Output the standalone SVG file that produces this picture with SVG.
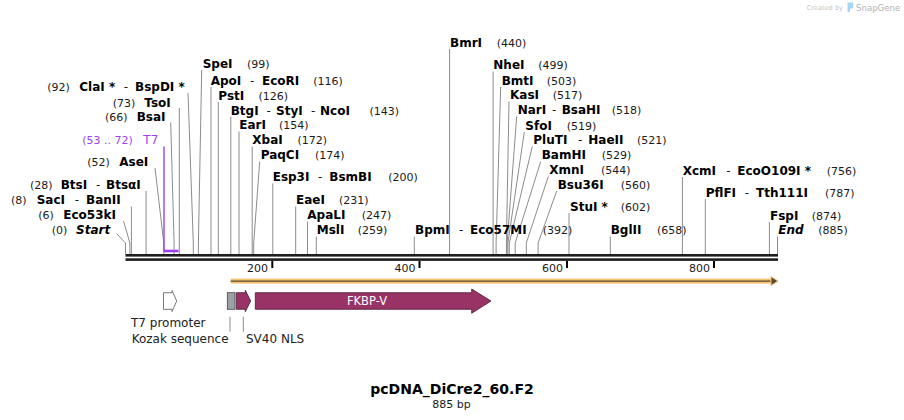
<svg xmlns="http://www.w3.org/2000/svg" width="904" height="420" viewBox="0 0 904 420">
<style>
.n{font-family:"DejaVu Sans",Verdana,sans-serif;font-size:12px;font-weight:bold;fill:#000}
.i{font-style:italic}
.p{font-family:"DejaVu Sans",Verdana,sans-serif;font-size:11px;fill:#1a1a1a}
.d{font-family:"DejaVu Sans",Verdana,sans-serif;font-size:12px;fill:#1a1a1a}
.t7{fill:#a03ff0}
.c{fill:none;stroke:#8c8c8c;stroke-width:1}
.fl{font-family:"DejaVu Sans",Verdana,sans-serif;font-size:12px;fill:#222}
.tk{stroke:#000;stroke-width:2}
</style>
<rect width="904" height="420" fill="#fff"/>

<g id="logo">
<text x="806.7" y="10" style="font-family:'DejaVu Sans',sans-serif;font-size:6.6px;fill:#c4c4c4">Created by</text>
<path d="M847.5,2.5 h4.5 a1.2,1.2 0 0 1 1.2,1.2 v3.6 a1.2,1.2 0 0 1 -1.2,1.2 h-2 v3.5 h-2.5 z" fill="#a6d6f5"/>
<text x="856" y="10.6" style="font-family:'DejaVu Sans',sans-serif;font-size:8.6px;fill:#b3b3b3">SnapGene</text>
</g>

<g id="connectors">
<polyline class="c" points="188,93 193.3,243 193.3,254"/>
<polyline class="c" points="179.3,108 179.3,254"/>
<polyline class="c" points="170.7,122.5 174.1,243 174.1,254"/>
<polyline class="c" points="155,168 163.8,243 163.8,254"/>
<polyline class="c" points="146.1,191 146.1,254"/>
<polyline class="c" points="131.4,206.5 131.4,254"/>
<polyline class="c" points="123.5,221 129.9,243 129.9,254"/>
<polyline class="c" points="116.5,233.5 125.5,243 125.5,254"/>
<polyline class="c" points="201.7,70 198.4,243 198.4,254"/>
<polyline class="c" points="211,87 211,254"/>
<polyline class="c" points="218.3,102 218.3,254"/>
<polyline class="c" points="230.8,116.5 230.8,254"/>
<polyline class="c" points="239,131.5 239,254"/>
<polyline class="c" points="252.2,146.5 252.2,254"/>
<polyline class="c" points="259.7,161.5 253.7,243 253.7,254"/>
<polyline class="c" points="272.8,183.5 272.8,254"/>
<polyline class="c" points="295.7,206.5 295.7,254"/>
<polyline class="c" points="307.5,221.5 307.5,254"/>
<polyline class="c" points="316.3,236.5 316.3,254"/>
<polyline class="c" points="414.3,236.5 414.3,254"/>
<polyline class="c" points="449.6,49 449.6,254"/>
<polyline class="c" points="493.1,71.5 493.1,254"/>
<polyline class="c" points="500.7,87 496.1,243 496.1,254"/>
<polyline class="c" points="509,101.5 506.4,243 506.4,254"/>
<polyline class="c" points="516.7,116.5 507.1,243 507.1,254"/>
<polyline class="c" points="524.3,132 507.9,243 507.9,254"/>
<polyline class="c" points="532.3,146.5 509.3,243 509.3,254"/>
<polyline class="c" points="540.7,161.5 515.2,243 515.2,254"/>
<polyline class="c" points="548.3,176.5 526.3,243 526.3,254"/>
<polyline class="c" points="556.7,191 538.1,243 538.1,254"/>
<polyline class="c" points="569,213 569,254"/>
<polyline class="c" points="610.3,236.5 610.3,254"/>
<polyline class="c" points="682.4,177 682.4,254"/>
<polyline class="c" points="705.3,199 705.3,254"/>
<polyline class="c" points="769.4,222 769.4,254"/>
<polyline class="c" points="777.5,236.5 777.5,254"/>
<polyline points="164,146.5 164,251" fill="none" stroke="#a03ff0" stroke-width="1.4"/>
<line x1="163.5" y1="251" x2="178.5" y2="251" stroke="#a03ff0" stroke-width="2.6"/>
<line x1="230" y1="316.7" x2="230" y2="331.7" class="c"/>
<line x1="243.3" y1="316.7" x2="243.3" y2="331.7" class="c"/>
</g>

<g id="backbone">
<rect x="125.5" y="254" width="652.5" height="2.6" fill="#1e1e1e"/>
<rect x="125.5" y="258.3" width="652.5" height="2.6" fill="#1e1e1e"/>
<line class="tk" x1="272.3" y1="261" x2="272.3" y2="268"/>
<line class="tk" x1="419.5" y1="261" x2="419.5" y2="268"/>
<line class="tk" x1="567" y1="261" x2="567" y2="268"/>
<line class="tk" x1="714" y1="261" x2="714" y2="268"/>
<text class="p" x="268" y="271.5" text-anchor="end">200</text>
<text class="p" x="415.5" y="271.5" text-anchor="end">400</text>
<text class="p" x="563" y="271.5" text-anchor="end">600</text>
<text class="p" x="710" y="271.5" text-anchor="end">800</text>
</g>

<g id="orf">
<rect x="230.7" y="278.6" width="542" height="5" fill="#f6c471"/>
<line x1="230.7" y1="281.1" x2="774" y2="281.1" stroke="#5b4a35" stroke-width="1.3"/>
<polygon points="771,276.6 778,281.1 771,285.6" fill="#5b4a35" stroke="#f6c471" stroke-width="1"/>
</g>

<g id="f_t7">
<path d="M163.5,292.7 H172 V290.5 L176.7,301 L172,311.5 V309.3 H163.5 Z" fill="#fff" stroke="#777" stroke-width="1"/>
<text class="fl" x="131" y="327">T7 promoter</text>
</g>
<g id="f_kozak">
<rect x="227.3" y="292.7" width="7.7" height="16.6" fill="#9ba1a8" stroke="#444" stroke-width="0.8"/>
<text class="fl" x="131.7" y="343.4">Kozak sequence</text>
</g>
<g id="f_sv40">
<path d="M236.3,292.7 H245.3 V290.2 L250.7,301 L245.3,311.8 V309.3 H236.3 Z" fill="#993366" stroke="#4a1a32" stroke-width="0.8"/>
<text class="fl" x="246" y="343.4">SV40 NLS</text>
</g>
<g id="f_fkbp">
<path d="M255.3,292.7 H471.7 V289 L491,301 L471.7,313.3 V309.3 H255.3 Z" fill="#993366" stroke="#4a1a32" stroke-width="0.8"/>
<text x="367" y="305.2" text-anchor="middle" style="font-family:'DejaVu Sans',sans-serif;font-size:11.5px;fill:#fff">FKBP-V</text>
</g>

<g id="l_clai"><text y="91"><tspan class="p" x="47.3">(92)</tspan><tspan class="n" x="79.3">ClaI *</tspan><tspan class="d" x="123.7">-</tspan><tspan class="n" x="135">BspDI *</tspan></text></g>
<g id="l_tsoi"><text y="106.7"><tspan class="p" x="112.7">(73)</tspan><tspan class="n" x="144.3">TsoI</tspan></text></g>
<g id="l_bsai"><text y="121"><tspan class="p" x="105">(66)</tspan><tspan class="n" x="136.7">BsaI</tspan></text></g>
<g id="l_t7"><text y="144.4"><tspan class="p t7" x="82.3">(53 .. 72)</tspan><tspan class="d t7" x="143.3">T7</tspan></text></g>
<g id="l_asei"><text y="166"><tspan class="p" x="87.3">(52)</tspan><tspan class="n" x="119.3">AseI</tspan></text></g>
<g id="l_btsi"><text y="189"><tspan class="p" x="30">(28)</tspan><tspan class="n" x="60.7">BtsI</tspan><tspan class="d" x="96">-</tspan><tspan class="n" x="106">BtsαI</tspan></text></g>
<g id="l_saci"><text y="204.4"><tspan class="p" x="11">(8)</tspan><tspan class="n" x="36.7">SacI</tspan><tspan class="d" x="74.7">-</tspan><tspan class="n" x="86">BanII</tspan></text></g>
<g id="l_eco53ki"><text y="219"><tspan class="p" x="38.3">(6)</tspan><tspan class="n" x="63.3">Eco53kI</tspan></text></g>
<g id="l_start"><text y="234.4"><tspan class="p" x="51.7">(0)</tspan><tspan class="n i" x="76">Start</tspan></text></g>

<g id="l_spei"><text y="68.4"><tspan class="n" x="202.7">SpeI</tspan><tspan class="p" x="247">(99)</tspan></text></g>
<g id="l_apoi"><text y="85"><tspan class="n" x="210.7">ApoI</tspan><tspan class="d" x="250">-</tspan><tspan class="n" x="262">EcoRI</tspan><tspan class="p" x="313.3">(116)</tspan></text></g>
<g id="l_psti"><text y="100"><tspan class="n" x="218.3">PstI</tspan><tspan class="p" x="258.5">(126)</tspan></text></g>
<g id="l_btgi"><text y="114.5"><tspan class="n" x="230.7">BtgI</tspan><tspan class="d" x="266.5">-</tspan><tspan class="n" x="276">StyI</tspan><tspan class="d" x="311">-</tspan><tspan class="n" x="320">NcoI</tspan><tspan class="p" x="369.5">(143)</tspan></text></g>
<g id="l_eari"><text y="129.4"><tspan class="n" x="239.3">EarI</tspan><tspan class="p" x="279">(154)</tspan></text></g>
<g id="l_xbai"><text y="144.4"><tspan class="n" x="252.3">XbaI</tspan><tspan class="p" x="297.5">(172)</tspan></text></g>
<g id="l_paqci"><text y="159.4"><tspan class="n" x="260.7">PaqCI</tspan><tspan class="p" x="315">(174)</tspan></text></g>
<g id="l_esp3i"><text y="181.4"><tspan class="n" x="272.7">Esp3I</tspan><tspan class="d" x="318">-</tspan><tspan class="n" x="329.3">BsmBI</tspan><tspan class="p" x="388.3">(200)</tspan></text></g>
<g id="l_eaei"><text y="204.4"><tspan class="n" x="296">EaeI</tspan><tspan class="p" x="339">(231)</tspan></text></g>
<g id="l_apali"><text y="219.4"><tspan class="n" x="307.3">ApaLI</tspan><tspan class="p" x="361.7">(247)</tspan></text></g>
<g id="l_msli"><text y="234.4"><tspan class="n" x="316.7">MslI</tspan><tspan class="p" x="357.7">(259)</tspan></text></g>
<g id="l_bpmi"><text y="234.4"><tspan class="n" x="415">BpmI</tspan><tspan class="d" x="459">-</tspan><tspan class="n" x="470">Eco57MI</tspan><tspan class="p" x="542.7">(392)</tspan></text></g>
<g id="l_bmri"><text y="46.7"><tspan class="n" x="450">BmrI</tspan><tspan class="p" x="496.7">(440)</tspan></text></g>
<g id="l_nhei"><text y="69.4"><tspan class="n" x="493.3">NheI</tspan><tspan class="p" x="538.3">(499)</tspan></text></g>
<g id="l_bmti"><text y="85"><tspan class="n" x="501.7">BmtI</tspan><tspan class="p" x="546.7">(503)</tspan></text></g>
<g id="l_kasi"><text y="99.4"><tspan class="n" x="510">KasI</tspan><tspan class="p" x="552.7">(517)</tspan></text></g>
<g id="l_nari"><text y="114.4"><tspan class="n" x="517.7">NarI</tspan><tspan class="d" x="552">-</tspan><tspan class="n" x="561.7">BsaHI</tspan><tspan class="p" x="611.7">(518)</tspan></text></g>
<g id="l_sfoi"><text y="130"><tspan class="n" x="525.3">SfoI</tspan><tspan class="p" x="566.7">(519)</tspan></text></g>
<g id="l_pluti"><text y="144.4"><tspan class="n" x="533.3">PluTI</tspan><tspan class="d" x="578">-</tspan><tspan class="n" x="588.3">HaeII</tspan><tspan class="p" x="637">(521)</tspan></text></g>
<g id="l_bamhi"><text y="159.4"><tspan class="n" x="541.7">BamHI</tspan><tspan class="p" x="601.7">(529)</tspan></text></g>
<g id="l_xmni"><text y="174.4"><tspan class="n" x="549.3">XmnI</tspan><tspan class="p" x="601">(544)</tspan></text></g>
<g id="l_bsu36i"><text y="188.7"><tspan class="n" x="557.7">Bsu36I</tspan><tspan class="p" x="620.7">(560)</tspan></text></g>
<g id="l_stui"><text y="211"><tspan class="n" x="570">StuI *</tspan><tspan class="p" x="620.7">(602)</tspan></text></g>
<g id="l_bglii"><text y="234.4"><tspan class="n" x="610.7">BglII</tspan><tspan class="p" x="657">(658)</tspan></text></g>
<g id="l_xcmi"><text y="175"><tspan class="n" x="682.7">XcmI</tspan><tspan class="d" x="726.3">-</tspan><tspan class="n" x="737.3">EcoO109I *</tspan><tspan class="p" x="826.7">(756)</tspan></text></g>
<g id="l_pflfi"><text y="197"><tspan class="n" x="705.7">PflFI</tspan><tspan class="d" x="744.7">-</tspan><tspan class="n" x="756">Tth111I</tspan><tspan class="p" x="825">(787)</tspan></text></g>
<g id="l_fspi"><text y="220"><tspan class="n" x="770">FspI</tspan><tspan class="p" x="811.7">(874)</tspan></text></g>
<g id="l_end"><text y="234.4"><tspan class="n i" x="778.3">End</tspan><tspan class="p" x="818.3">(885)</tspan></text></g>

<g id="title">
<text x="452" y="394" text-anchor="middle" style="font-family:'DejaVu Sans',sans-serif;font-size:14px;font-weight:bold;fill:#000">pcDNA_DiCre2_60.F2</text>
<text x="451.5" y="408" text-anchor="middle" class="p">885 bp</text>
</g>
</svg>
